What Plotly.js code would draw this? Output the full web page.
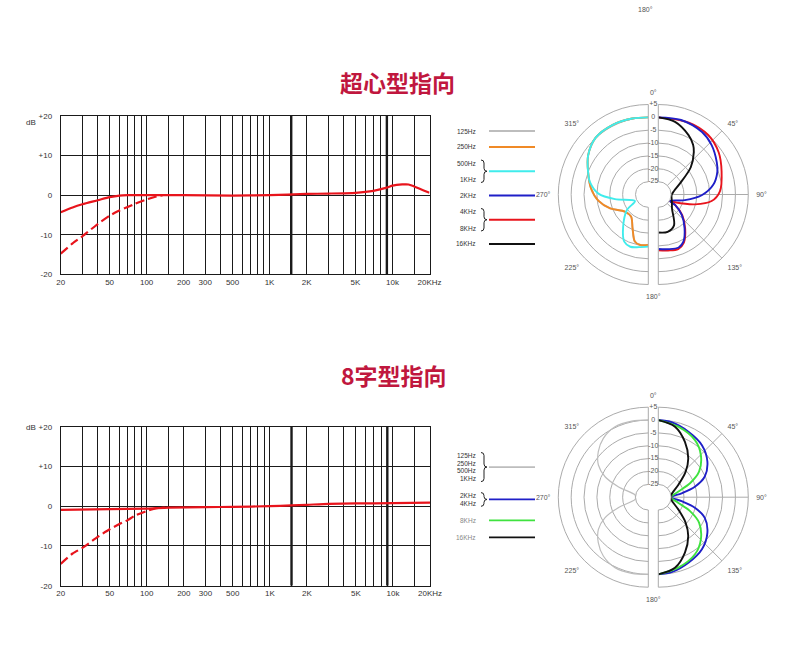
<!DOCTYPE html>
<html><head><meta charset="utf-8">
<script src="https://cdn.plot.ly/plotly-3.0.1.min.js"></script>
<style>html,body{margin:0;padding:0;background:#fff}#chart{width:790px;height:660px}</style>
</head><body><div id="chart"></div>
<script>
// ================= DATA =================
// Frequency-response grid
const freqTicks = [20,30,40,50,60,70,80,90,100,150,200,300,400,500,600,700,800,900,1000,1500,2000,3000,4000,5000,6000,7000,8000,9000,10000,15000,20000];
const freqLabelVals = [20,50,100,200,300,500,1000,2000,5000,10000,20000];
const freqLabelText = ['20','50','100','200','300','500','1K','2K','5K','10k','20KHz'];
const emphasisFreqs = [1500, 9000];
const dbTicks = [-20,-10,0,10,20];
const dbTickText = ['-20','-10','0','+10','+20'];

// Supercardioid frequency response
const superFreq  = [20,25,30,40,50,60,70,100,200,500,1000,2000,3000,5000,7000,9000,10000,12000,13500,15000,20000];
const superSolid = [-4.3,-3.1,-2.3,-1.3,-0.5,-0.1,0,0,0,-0.1,0,0.3,0.4,0.6,1.1,1.9,2.4,2.7,2.7,2.2,0.6];
const superDashFreq = [20,25,30,40,50,60,70,80,100,120,135];
const superDash     = [-14.8,-12.2,-10.4,-7.3,-5.2,-3.9,-3.0,-2.2,-1.1,-0.35,0];

// Figure-8 frequency response
const fig8Freq  = [20,50,100,150,300,500,1000,1500,2000,3000,5000,10000,20000];
const fig8Solid = [-0.9,-0.75,-0.6,-0.35,-0.25,-0.15,0,0.2,0.35,0.6,0.7,0.75,0.9];
const fig8DashFreq = [20,25,30,40,50,60,70,80,100,120,140];
const fig8Dash     = [-14.5,-11.9,-10.5,-7.7,-5.8,-4.5,-3.5,-2.4,-1.2,-0.5,-0.35];

// Polar rings
const ringVals   = [5,0,-5,-10,-15,-20,-25];
const ringLabels = ['+5','0','-5','-10','-15','-20','-25'];

// Supercardioid polar (left half: low freqs, right half: high freqs)
const sc125Theta = [360,348,333,317,303,290,276,263,250,234,218,205,196,189,180];
const sc125R     = [0,0.2,0.4,0.1,-2.1,-5.1,-7.6,-10.4,-14.2,-18.7,-19.1,-15.5,-11,-10.1,-10.4];
const sc250Theta = [360,348,333,317,303,290,276,263,250,234,218,205,196,189,180];
const sc250R     = [0,0.2,0.4,0.1,-2.1,-5.1,-7.6,-10.4,-14.2,-18.7,-19.1,-15.5,-11,-10.1,-10.4];
const sc500Theta = [360,348,333,317,303,290,282,271,262,244,234,218,207,199,190,180];
const sc500R     = [0,0.2,0.4,0.1,-2.1,-5.1,-6.8,-10.6,-16.9,-24.2,-19.7,-14.1,-9.4,-8.5,-9.2,-9.7];
const sc2kTheta  = [0,17,35,47,61,69,80,91,102,119,122,131,142,152,159,170,180];
const sc2kR      = [0,0.3,-0.35,-1.7,-4,-5.4,-8.3,-13.1,-19.4,-24.8,-22.3,-17.9,-13.4,-9.2,-7.9,-8.4,-8.8];
const sc4kTheta  = [0,23,40,55,70,87,97,105,115,119,122,131,142,152,160,170,180];
const sc4kR      = [0,0.4,0.2,-1.35,-3.8,-6,-9.1,-15.2,-22.8,-24.8,-22.2,-17.6,-13,-8.8,-7.4,-7.9,-8.3];
const sc16kTheta = [0,13,27,35,40,50,63,78,92,118,136,153,166,180];
const sc16kR     = [0,-1,-4.1,-6.4,-8.5,-13.5,-20.5,-23.8,-24.8,-24,-22.3,-16.5,-15,-15.2];

// Figure-8 polar
const f8LowTheta = [360,347.7,334.7,322.6,312.3,302.8,295.3,289.3,279.4,270,260.6,250.7,244.7,237.2,227.7,217.4,205.3,192.3,180];
const f8LowR     = [0,0.3,0.3,-1.2,-3.7,-6.9,-11.4,-17.6,-24.8,-25,-24.8,-17.6,-11.4,-6.9,-3.7,-1.2,0.3,0.3,0];
const f82kTheta  = [0,10,25,40,54,66,74,80.5,90,99.5,106,114,126,140,155,170,180];
const f82kR      = [0,-0.4,-2,-3.6,-6.4,-10.2,-15.2,-20.8,-25,-20.8,-15.2,-10.2,-6.4,-3.6,-2,-0.4,0];
const f88kTheta  = [0,15.8,32.7,45.3,58,66.3,74.6,90,105.4,113.7,122,134.7,147.3,164.2,180];
const f88kR      = [0,-1.5,-3.6,-6.7,-11.3,-16.5,-22,-25,-22,-16.5,-11.3,-6.7,-3.6,-1.5,0];
const f816kTheta = [0,13.3,25.7,37.6,47.1,58.6,77.8,90,102.2,121.4,132.9,142.4,154.3,166.7,180];
const f816kR     = [0,-1.8,-6.1,-10.9,-15.5,-20.9,-24.7,-25,-24.7,-20.9,-15.5,-10.9,-6.1,-1.8,0];

// Legends
const legTopLabels = [['125Hz'],['250Hz'],['500Hz','1KHz'],['2KHz'],['4KHz','8KHz'],['16KHz']];
const legBotLabels = [['125Hz','250Hz','500Hz','1KHz'],['2KHz','4KHz'],['8KHz'],['16KHz']];

// ================= STYLE / LAYOUT =================
const W = 790, H = 660;
const C = {red:'#e8141c', gray:'#bdbdbd', orange:'#f08a26', cyan:'#40ecec', blue:'#1f1fc8', black:'#111111', green:'#3fe23f', grid:'#ababab', dark:'#1a1a1a'};
const PR = 90, HOLE = 12.8, GAP = 10;
const topC = {x:653.3, y:194.5}, botC = {x:653.3, y:497.2};

const traces = [];
function cart(x, y, xa, ya, dash) {
  traces.push({type:'scatter', x, y, xaxis:xa, yaxis:ya, mode:'lines', hoverinfo:'skip',
    line:{color:C.red, width:2.2, shape:'spline', smoothing:0.6, dash: dash ? '9px,4px' : 'solid'}});
}
emphasisFreqs.forEach(f => {
  ['', '2'].forEach(s => traces.push({type:'scatter', x:[f,f], y:[dbTicks[0], dbTicks[dbTicks.length-1]],
    xaxis:'x'+s, yaxis:'y'+s, mode:'lines', hoverinfo:'skip', line:{color:C.dark, width:2.4}}));
});
cart(superDashFreq, superDash, 'x', 'y', true);
cart(superFreq, superSolid, 'x', 'y', false);
cart(fig8DashFreq, fig8Dash, 'x2', 'y2', true);
cart(fig8Freq, fig8Solid, 'x2', 'y2', false);

function pol(sub, theta, r, color, width) {
  traces.push({type:'scatterpolar', subplot:sub, theta, r, mode:'lines', hoverinfo:'skip', cliponaxis:false,
    line:{color, width: width || 1.9, shape:'spline', smoothing:0.9}});
}
// top: polar (left) polar2 (right) polar3 (strip labels) polar7 (left angle labels)
pol('polar', sc125Theta, sc125R, C.gray);
pol('polar', sc250Theta, sc250R, C.orange);
pol('polar', sc500Theta, sc500R, C.cyan);
pol('polar2', sc4kTheta, sc4kR, C.red);
pol('polar2', sc2kTheta, sc2kR, C.blue);
pol('polar2', sc16kTheta, sc16kR, C.black);
// bottom: polar4 (left) polar5 (right) polar6 (strip labels) polar8 (left angle labels)
pol('polar4', f8LowTheta, f8LowR, C.gray, 1.2);
pol('polar5', f82kTheta, f82kR, C.blue);
pol('polar5', f88kTheta, f88kR, C.green);
pol('polar5', f816kTheta, f816kR, C.black);
['polar3','polar6'].forEach(sub => traces.push({type:'scatterpolar', subplot:sub, mode:'text', r:ringVals,
  theta:ringVals.map(() => 0), text:ringLabels, textposition:'middle center', cliponaxis:false, hoverinfo:'skip',
  textfont:{size:7, color:'#555', family:'Liberation Sans, Arial, sans-serif'}}));
// invisible anchor traces so the label-only polars get drawn
['polar7','polar8'].forEach(sub => traces.push({type:'scatterpolar', subplot:sub, mode:'markers', r:[ringVals[0]],
  theta:[0], marker:{size:1, color:'rgba(0,0,0,0)'}, hoverinfo:'skip'}));

function freqAxis(px, anchor) {
  return {type:'log', domain:[px[0]/W, px[1]/W], range:[Math.log10(freqTicks[0]), Math.log10(freqTicks[freqTicks.length-1])],
    tickmode:'array', tickvals:freqTicks,
    ticktext:freqTicks.map(f => { const i = freqLabelVals.indexOf(f); return i >= 0 ? freqLabelText[i] : ''; }),
    showgrid:true, gridcolor:C.dark, gridwidth:1, showline:true, mirror:true, linecolor:C.dark, linewidth:1,
    ticks:'', zeroline:false, anchor, fixedrange:true, tickfont:{size:8, color:'#333'}};
}
function dbAxis(py, anchor) {
  return {domain:[1-py[1]/H, 1-py[0]/H], range:[dbTicks[0], dbTicks[dbTicks.length-1]], tickmode:'array',
    tickvals:dbTicks, ticktext:dbTickText, showgrid:true, gridcolor:C.dark, gridwidth:1, zeroline:false,
    showline:true, mirror:true, linecolor:C.dark, ticks:'', anchor, fixedrange:true, ticklabelstandoff:6,
    tickfont:{size:8, color:'#333'}};
}
function polarCfg(c, part) {
  let x0, x1, sector, tv, showTL = true;
  const cl = c.x - GAP/2, cr = c.x + GAP/2;
  if (part === 'left')  { x1 = cl; x0 = x1 - PR; sector = [90, 270]; tv = [225, 270, 315]; showTL = false; }
  if (part === 'right') { x0 = cr; x1 = x0 + PR; sector = [-90, 90]; tv = [45, 90, 135]; }
  if (part === 'full')  { x0 = c.x - PR; x1 = c.x + PR; sector = [0, 360]; tv = [0, 180]; }
  if (part === 'leftlab') { x0 = cl - PR; x1 = cl + PR; sector = [0, 360]; tv = [225, 270, 315]; }
  const deco = part === 'left' || part === 'right';
  return {
    domain:{x:[x0/W, x1/W], y:[1-(c.y+PR)/H, 1-(c.y-PR)/H]},
    sector, hole: HOLE/PR, bgcolor:'rgba(0,0,0,0)',
    radialaxis:{range:[ringVals[ringVals.length-1], ringVals[0]], tickmode:'array', tickvals:ringVals,
      showticklabels:false, ticks:'', showline:false, showgrid:deco, gridcolor:C.grid, gridwidth:1},
    angularaxis:{rotation:90, direction:'clockwise', tickmode:'array', tickvals:tv, ticktext:tv.map(v => v + '°'),
      showgrid:deco, gridcolor:C.grid, showline:deco, linecolor:C.grid, ticks:'outside', ticklen:6,
      showticklabels:showTL, tickcolor:'rgba(0,0,0,0)', tickfont:{size:7, color:'#555'}}
  };
}

const shapes = [], annotations = [];
const X = p => p/W, Y = p => 1 - p/H;
function brace(x, y1, y2) {
  const x1 = x + 3, x2 = x + 6, ym = (y1 + y2)/2;
  const P = (a, b) => X(a).toFixed(5) + ',' + Y(b).toFixed(5);
  return {type:'path', xref:'paper', yref:'paper', line:{color:'#222', width:1},
    path:`M${P(x,y1)} Q${P(x1,y1)} ${P(x1,y1+3)} L${P(x1,ym-3)} Q${P(x1,ym)} ${P(x2,ym)} Q${P(x1,ym)} ${P(x1,ym+3)} L${P(x1,y2-3)} Q${P(x1,y2)} ${P(x,y2)}`};
}
function legend(groups, colors, firstY, rowGap, groupGap, textColors) {
  let y = firstY;
  groups.forEach((g, gi) => {
    const ys = g.map((_, i) => y + i*rowGap);
    g.forEach((t, i) => annotations.push({x:X(478), y:Y(ys[i]), xref:'paper', yref:'paper', text:t, showarrow:false,
      xanchor:'right', yanchor:'middle', font:{size:6.5, color:(textColors && textColors[gi]) || '#333'}}));
    const ly = (ys[0] + ys[ys.length-1])/2;
    shapes.push({type:'line', xref:'paper', yref:'paper', x0:X(489), x1:X(535), y0:Y(ly), y1:Y(ly), line:{color:colors[gi], width:1.8}});
    if (g.length > 1) shapes.push(brace(481, ys[0]-3, ys[ys.length-1]+3));
    y = ys[ys.length-1] + groupGap;
  });
}
legend(legTopLabels, [C.gray, C.orange, C.cyan, C.blue, C.red, C.black], 131, 16.5, 16, null);
legend(legBotLabels, [C.gray, C.blue, C.green, C.black], 455.5, 7.7, 17, [null, null, '#888', '#888']);

const cjk = 'Noto Sans CJK SC, sans-serif';
annotations.push({x:X(397), y:Y(63), xref:'paper', yref:'paper', text:'<b>超心型指向</b>', showarrow:false,
  font:{family:cjk, size:23, color:'#c0173e'}});
annotations.push({x:X(394), y:Y(375), xref:'paper', yref:'paper', text:'<b>8字型指向</b>', showarrow:false,
  font:{family:cjk, size:23, color:'#c0173e'}});
annotations.push({x:X(31), y:Y(116), xref:'paper', yref:'paper', text:'dB', showarrow:false, xanchor:'center', font:{size:8, color:'#333'}});
annotations.push({x:X(31), y:Y(427), xref:'paper', yref:'paper', text:'dB', showarrow:false, xanchor:'center', font:{size:8, color:'#333'}});
annotations.push({x:X(655), y:Y(4), xref:'paper', yref:'paper', text:'180°', showarrow:false, font:{size:7, color:'#555'}});

const layout = {
  width:W, height:H, margin:{l:0, r:0, t:0, b:0}, paper_bgcolor:'#fff', plot_bgcolor:'rgba(0,0,0,0)', showlegend:false,
  font:{family:'Liberation Sans, Arial, sans-serif', color:'#333', size:8},
  xaxis:freqAxis([60.7, 429.5], 'y'), yaxis:dbAxis([116, 274.3], 'x'),
  xaxis2:freqAxis([60.7, 430], 'y2'), yaxis2:dbAxis([426.7, 585.7], 'x2'),
  polar:polarCfg(topC, 'left'), polar2:polarCfg(topC, 'right'), polar3:polarCfg(topC, 'full'), polar7:polarCfg(topC, 'leftlab'),
  polar4:polarCfg(botC, 'left'), polar5:polarCfg(botC, 'right'), polar6:polarCfg(botC, 'full'), polar8:polarCfg(botC, 'leftlab'),
  shapes, annotations
};
Plotly.newPlot('chart', traces, layout, {staticPlot:true, displayModeBar:false});
</script></body></html>
